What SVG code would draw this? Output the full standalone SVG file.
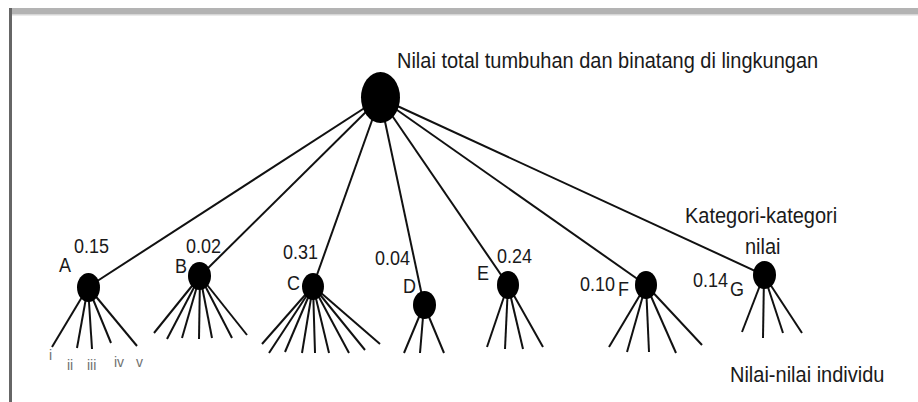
<svg xmlns="http://www.w3.org/2000/svg" width="918" height="402" viewBox="0 0 918 402">
  <style>
    .lbl { font-family: "Liberation Sans", Arial, sans-serif; font-size: 20px; fill: #1a1a1a; }
    .num { font-family: "Liberation Sans", Arial, sans-serif; font-size: 18px; fill: #1a1a1a; }
    .rom { font-family: "Liberation Sans", Arial, sans-serif; font-size: 14px; fill: #707070; }
    .edge { stroke: #111; stroke-width: 2; fill: none; }
    .dot { fill: #000; }
  </style>
  <rect width="918" height="402" fill="#fff"/>
  <!-- frame -->
  <rect x="9" y="8" width="909" height="7" fill="#b3b3b3"/>
  <rect x="9" y="14" width="909" height="1.5" fill="#d6d6d6"/>
  <rect x="9" y="8" width="3" height="394" fill="#666"/>

  <!-- connectors -->
  <g id="connectors" class="edge">
    <!-- root to categories -->
    <line x1="380" y1="98" x2="88" y2="287"/>
    <line x1="380" y1="98" x2="200" y2="276"/>
    <line x1="380" y1="98" x2="313" y2="286"/>
    <line x1="380" y1="98" x2="424" y2="305"/>
    <line x1="380" y1="98" x2="508" y2="285"/>
    <line x1="380" y1="98" x2="646" y2="285"/>
    <line x1="380" y1="98" x2="764" y2="275"/>
    <!-- A leaves -->
    <line x1="88" y1="287" x2="52" y2="347"/>
    <line x1="88" y1="287" x2="77" y2="348"/>
    <line x1="88" y1="287" x2="92" y2="349"/>
    <line x1="88" y1="287" x2="111" y2="343"/>
    <line x1="88" y1="287" x2="137" y2="346"/>
    <!-- B leaves -->
    <line x1="200" y1="276" x2="154" y2="333"/>
    <line x1="200" y1="276" x2="167" y2="339"/>
    <line x1="200" y1="276" x2="182" y2="338"/>
    <line x1="200" y1="276" x2="199" y2="339"/>
    <line x1="200" y1="276" x2="212" y2="338"/>
    <line x1="200" y1="276" x2="232" y2="338"/>
    <line x1="200" y1="276" x2="247" y2="335"/>
    <!-- C leaves -->
    <line x1="313" y1="286" x2="262" y2="344"/>
    <line x1="313" y1="286" x2="269" y2="353"/>
    <line x1="313" y1="286" x2="285" y2="352"/>
    <line x1="313" y1="286" x2="302" y2="353"/>
    <line x1="313" y1="286" x2="315" y2="353"/>
    <line x1="313" y1="286" x2="329" y2="353"/>
    <line x1="313" y1="286" x2="349" y2="353"/>
    <line x1="313" y1="286" x2="365" y2="350"/>
    <line x1="313" y1="286" x2="380" y2="344"/>
    <!-- D leaves -->
    <line x1="424" y1="305" x2="404" y2="353"/>
    <line x1="424" y1="305" x2="420" y2="353"/>
    <line x1="424" y1="305" x2="444" y2="353"/>
    <!-- E leaves -->
    <line x1="508" y1="285" x2="487" y2="347"/>
    <line x1="508" y1="285" x2="505" y2="349"/>
    <line x1="508" y1="285" x2="523" y2="349"/>
    <line x1="508" y1="285" x2="543" y2="347"/>
    <!-- F leaves -->
    <line x1="646" y1="285" x2="609" y2="347"/>
    <line x1="646" y1="285" x2="627" y2="352"/>
    <line x1="646" y1="285" x2="649" y2="352"/>
    <line x1="646" y1="285" x2="676" y2="353"/>
    <line x1="646" y1="285" x2="702" y2="345"/>
    <!-- G leaves -->
    <line x1="764" y1="275" x2="742" y2="332"/>
    <line x1="764" y1="275" x2="763" y2="338"/>
    <line x1="764" y1="275" x2="783" y2="333"/>
    <line x1="764" y1="275" x2="802" y2="333"/>
  </g>

  <g id="root">
    <ellipse class="dot" cx="380.5" cy="97.5" rx="19.5" ry="25.5"/>
    <text class="lbl" transform="translate(397 68) scale(1 1.06)">Nilai total tumbuhan dan binatang di lingkungan</text>
  </g>
  <g id="nodeA">
    <ellipse class="dot" cx="88.5" cy="287.5" rx="11.5" ry="14.5"/>
    <text class="num" transform="translate(74 253) scale(1 1.15)">0.15</text>
    <text class="num" transform="translate(59 272) scale(1 1.15)">A</text>
    <text class="rom" x="49" y="360">i</text>
    <text class="rom" x="67" y="370">ii</text>
    <text class="rom" x="87" y="370">iii</text>
    <text class="rom" x="114" y="367">iv</text>
    <text class="rom" x="136" y="367">v</text>
  </g>
  <g id="nodeB">
    <ellipse class="dot" cx="199.5" cy="276" rx="11.5" ry="14"/>
    <text class="num" transform="translate(186 253) scale(1 1.15)">0.02</text>
    <text class="num" transform="translate(175 273) scale(1 1.15)">B</text>
  </g>
  <g id="nodeC">
    <ellipse class="dot" cx="313" cy="286.5" rx="11" ry="13.5"/>
    <text class="num" transform="translate(283 259) scale(1 1.15)">0.31</text>
    <text class="num" transform="translate(287 290) scale(1 1.15)">C</text>
  </g>
  <g id="nodeD">
    <ellipse class="dot" cx="424.5" cy="305" rx="11.5" ry="14"/>
    <text class="num" transform="translate(375 265) scale(1 1.15)">0.04</text>
    <text class="num" transform="translate(403 293) scale(1 1.15)">D</text>
  </g>
  <g id="nodeE">
    <ellipse class="dot" cx="508" cy="285" rx="11" ry="14"/>
    <text class="num" transform="translate(497 263) scale(1 1.15)">0.24</text>
    <text class="num" transform="translate(477 280) scale(1 1.15)">E</text>
  </g>
  <g id="nodeF">
    <ellipse class="dot" cx="646" cy="285" rx="11" ry="14"/>
    <text class="num" transform="translate(580 291) scale(1 1.15)">0.10</text>
    <text class="num" transform="translate(618 296) scale(1 1.15)">F</text>
  </g>
  <g id="nodeG">
    <ellipse class="dot" cx="764.5" cy="275" rx="11.5" ry="14"/>
    <text class="num" transform="translate(693 287) scale(1 1.15)">0.14</text>
    <text class="num" transform="translate(730 296) scale(1 1.15)">G</text>
    <text class="lbl" transform="translate(685 223) scale(1 1.06)">Kategori-kategori</text>
    <text class="lbl" transform="translate(745 254) scale(1 1.06)">nilai</text>
  </g>
  <g id="leafCaption">
    <text class="lbl" transform="translate(730 382) scale(1 1.06)">Nilai-nilai individu</text>
  </g>
</svg>
